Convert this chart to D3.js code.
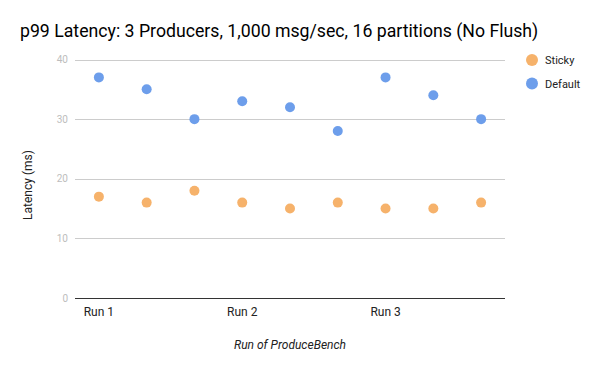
<!DOCTYPE html>
<html><head><meta charset="utf-8">
<script src="https://cdn.jsdelivr.net/npm/d3@7"></script>
<style>body{margin:0;background:#fff}svg{display:block;font-family:Roboto,sans-serif}</style>
</head><body><svg id="c" width="600" height="371"></svg>
<script>
const categories = ["r1a","r1b","r1c","r2a","r2b","r2c","r3a","r3b","r3c"];
const categoryLabels = ["Run 1","","","Run 2","","","Run 3","",""];
const sticky = [17,16,18,16,15,16,15,15,16];
const defaultVals = [37,35,30,33,32,28,37,34,30];
const yTicks = [0,10,20,30,40];
const seriesNames = ["Sticky","Default"];
const seriesColors = ["#f6b26b","#6d9eeb"];

const svg = d3.select("#c");
const x = d3.scaleBand().domain(categories).range([75,505]);
const y = d3.scaleLinear().domain([0,40]).range([298,59.5]);

svg.append("text").attr("x",20).attr("y",37).attr("font-size",17.7).attr("fill","#000")
  .text("p99 Latency: 3 Producers, 1,000 msg/sec, 16 partitions (No Flush)");

const gy = svg.append("g").attr("transform","translate(75,0)")
  .call(d3.axisLeft(y).tickValues(yTicks).tickSize(-430).tickFormat(d3.format("d")).tickPadding(7));
gy.select(".domain").remove();
gy.selectAll(".tick line").attr("stroke","#cccccc").attr("shape-rendering","crispEdges");
gy.selectAll(".tick text").attr("fill","#bdbdbd").attr("font-size",10).attr("font-family","Roboto");
gy.selectAll(".tick").filter(d=>d===0).select("line").attr("stroke","#333");

const gx = svg.append("g").attr("transform","translate(0,298)")
  .call(d3.axisBottom(x).tickSize(0).tickPadding(9).tickFormat((d,i)=>categoryLabels[i]));
gx.select(".domain").remove();
gx.selectAll(".tick text").attr("fill","#222").attr("font-size",12).attr("font-family","Roboto");

svg.append("text").attr("transform","translate(32,185) rotate(-90)").attr("text-anchor","middle")
  .attr("font-size",12).attr("fill","#222").text("Latency (ms)");
svg.append("text").attr("x",290).attr("y",349).attr("text-anchor","middle").attr("font-style","italic")
  .attr("font-size",12).attr("fill","#222").text("Run of ProduceBench");

[sticky, defaultVals].forEach((vals,si)=>{
  svg.append("g").selectAll("circle").data(vals).join("circle")
    .attr("cx",(d,i)=>x(categories[i])+x.bandwidth()/2)
    .attr("cy",d=>y(d)).attr("r",5).attr("fill",seriesColors[si]);
});

const lg = svg.append("g");
seriesNames.forEach((n,i)=>{
  lg.append("circle").attr("cx",532).attr("cy",60+i*23.5).attr("r",6).attr("fill",seriesColors[i]);
  lg.append("text").attr("x",545).attr("y",64+i*23.5).attr("font-size",11).attr("fill","#222").text(n);
});
</script></body></html>
